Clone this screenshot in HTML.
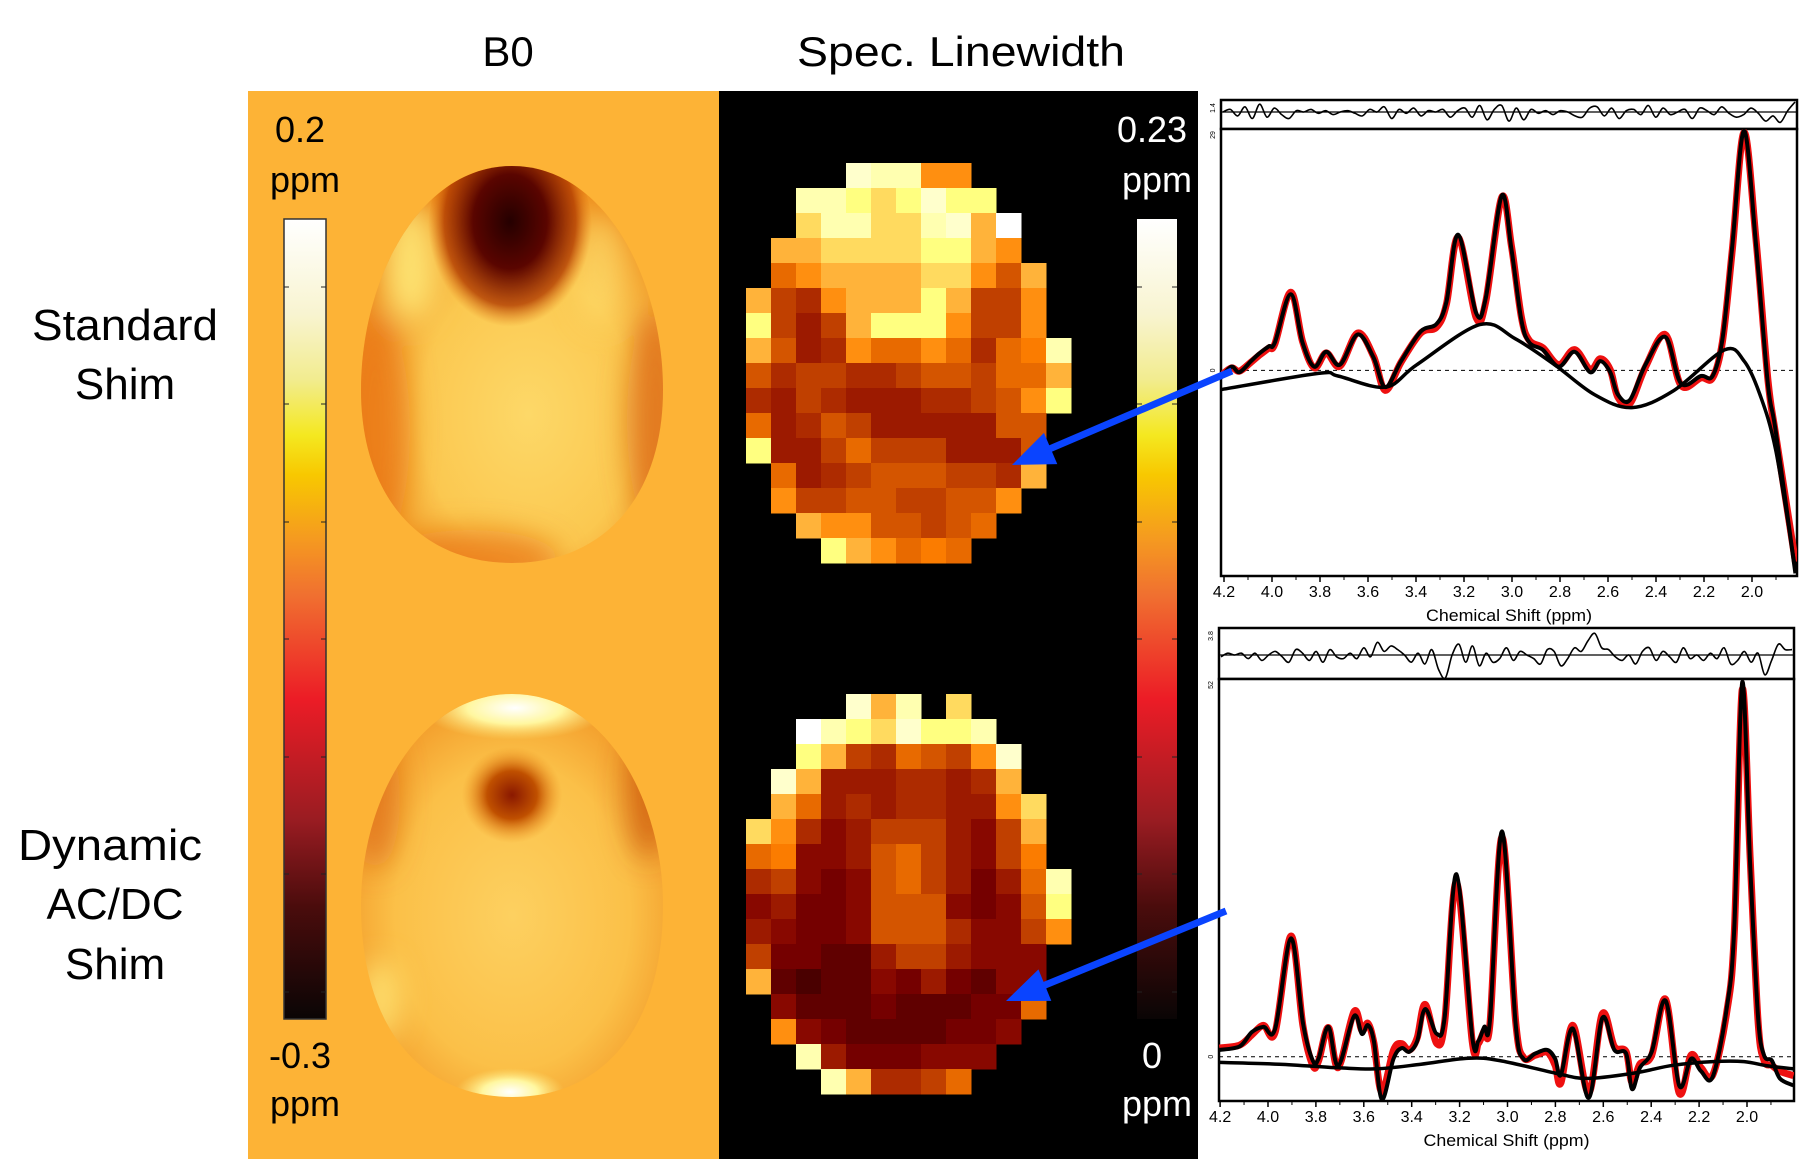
<!DOCTYPE html>
<html><head><meta charset="utf-8">
<style>
html,body{margin:0;padding:0;background:#fff;}
svg{display:block;font-family:"Liberation Sans",sans-serif;}
</style></head>
<body>
<svg id="fig" width="1815" height="1169" viewBox="0 0 1815 1169" xmlns="http://www.w3.org/2000/svg">
<defs>
<linearGradient id="hotB0" x1="0" y1="0" x2="0" y2="1">
<stop offset="0" stop-color="#ffffff"/><stop offset="0.12" stop-color="#f8f4d0"/><stop offset="0.2" stop-color="#f2ec90"/>
<stop offset="0.27" stop-color="#f4e820"/><stop offset="0.32" stop-color="#f8c800"/><stop offset="0.4" stop-color="#f59a20"/>
<stop offset="0.47" stop-color="#f07030"/><stop offset="0.6" stop-color="#ec1c26"/><stop offset="0.75" stop-color="#9a1c22"/>
<stop offset="0.86" stop-color="#4a0c0c"/><stop offset="1" stop-color="#0a0505"/></linearGradient>
<radialGradient id="brainTopG" cx="0.55" cy="0.62" r="0.62">
<stop offset="0" stop-color="#fdd868"/><stop offset="0.55" stop-color="#fbc850"/><stop offset="1" stop-color="#ec8414"/></radialGradient>
<radialGradient id="spotTop" cx="0.5" cy="0.45" r="0.5">
<stop offset="0" stop-color="#250000"/><stop offset="0.45" stop-color="#5a0500"/><stop offset="0.8" stop-color="#b03a00" stop-opacity="0.8"/><stop offset="1" stop-color="#e07010" stop-opacity="0"/></radialGradient>
<radialGradient id="brainBotG" cx="0.5" cy="0.55" r="0.62">
<stop offset="0" stop-color="#fdd060"/><stop offset="0.6" stop-color="#fbc048"/><stop offset="1" stop-color="#f09020"/></radialGradient>
<radialGradient id="spotBot" cx="0.5" cy="0.5" r="0.5">
<stop offset="0" stop-color="#8a1800"/><stop offset="0.5" stop-color="#c05000"/><stop offset="1" stop-color="#f09020" stop-opacity="0"/></radialGradient>
<radialGradient id="whiteG" cx="0.5" cy="0.5" r="0.5">
<stop offset="0" stop-color="#ffffff"/><stop offset="0.5" stop-color="#fff7a0"/><stop offset="1" stop-color="#fde070" stop-opacity="0"/></radialGradient>
<filter id="soft" x="-50%" y="-50%" width="200%" height="200%"><feGaussianBlur stdDeviation="14"/></filter>
<clipPath id="clipTop"><path d="M512,166 C605,166 663,280 663,390 C663,495 605,563 512,563 C419,563 361,495 361,390 C361,280 419,166 512,166 Z"/></clipPath>
<clipPath id="clipBot"><path d="M512,694 C605,694 663,800 663,905 C663,1025 605,1097 512,1097 C419,1097 361,1025 361,905 C361,800 419,694 512,694 Z"/></clipPath>
</defs>

<rect x="0" y="0" width="1815" height="1169" fill="#ffffff"/>
<text x="508" y="66" font-size="42" text-anchor="middle">B0</text>
<text x="961" y="66" font-size="42" text-anchor="middle" textLength="328" lengthAdjust="spacingAndGlyphs">Spec. Linewidth</text>

<text x="125" y="340" font-size="44" text-anchor="middle" textLength="186" lengthAdjust="spacingAndGlyphs">Standard</text>
<text x="125" y="399" font-size="44" text-anchor="middle">Shim</text>
<text x="110" y="860" font-size="44" text-anchor="middle" textLength="184" lengthAdjust="spacingAndGlyphs">Dynamic</text>
<text x="115" y="919" font-size="44" text-anchor="middle" textLength="137" lengthAdjust="spacingAndGlyphs">AC/DC</text>
<text x="115" y="979" font-size="44" text-anchor="middle">Shim</text>

<rect x="248" y="91" width="471" height="1068" fill="#fdb336"/>
<rect x="719" y="91" width="479" height="1068" fill="#000000"/>

<g>
<rect x="284" y="219" width="42" height="800" fill="url(#hotB0)" stroke="#333" stroke-width="1.5"/>
<g id="b0ticks"></g>
</g>
<text x="300" y="142" font-size="36" text-anchor="middle">0.2</text>
<text x="305" y="192" font-size="36" text-anchor="middle">ppm</text>
<text x="300" y="1068" font-size="36" text-anchor="middle">-0.3</text>
<text x="305" y="1116" font-size="36" text-anchor="middle">ppm</text>

<g clip-path="url(#clipTop)">
<rect x="355" y="160" width="315" height="410" fill="url(#brainTopG)"/>
<g filter="url(#soft)">
<ellipse cx="375" cy="430" rx="35" ry="120" fill="#e87010" opacity="0.7"/>
<ellipse cx="655" cy="420" rx="28" ry="110" fill="#d86010" opacity="0.7"/>
<ellipse cx="470" cy="560" rx="90" ry="30" fill="#e87010" opacity="0.7"/>
<ellipse cx="410" cy="260" rx="28" ry="60" fill="#fff080" opacity="0.8"/>
<ellipse cx="600" cy="270" rx="25" ry="55" fill="#fde070" opacity="0.6"/>
</g>
<ellipse cx="510" cy="232" rx="82" ry="105" fill="url(#spotTop)"/>
</g>
<g clip-path="url(#clipBot)">
<rect x="355" y="690" width="315" height="410" fill="url(#brainBotG)"/>
<g filter="url(#soft)">
<ellipse cx="375" cy="800" rx="25" ry="70" fill="#d86010" opacity="0.6"/>
<ellipse cx="648" cy="790" rx="22" ry="70" fill="#c04000" opacity="0.6"/>
<ellipse cx="380" cy="1000" rx="20" ry="40" fill="#fff080" opacity="0.7"/>
</g>
<ellipse cx="515" cy="708" rx="95" ry="32" fill="url(#whiteG)"/>
<ellipse cx="510" cy="1092" rx="55" ry="24" fill="url(#whiteG)"/>
<ellipse cx="512" cy="795" rx="50" ry="48" fill="url(#spotBot)"/>
</g>

<g id="gridTop"></g>
<g id="gridBot"></g>

<g>
<rect x="1137" y="219" width="40" height="800" fill="url(#hotB0)"/>
<g id="lwticks"></g>
</g>
<text x="1152" y="142" font-size="36" fill="#fff" text-anchor="middle">0.23</text>
<text x="1157" y="192" font-size="36" fill="#fff" text-anchor="middle">ppm</text>
<text x="1152" y="1068" font-size="36" fill="#fff" text-anchor="middle">0</text>
<text x="1157" y="1116" font-size="36" fill="#fff" text-anchor="middle">ppm</text>

<g id="specTop"></g>
<g id="specBot"></g>
<g id="arrows"></g>
</svg>
<script>
// ---------- linewidth grids (hot colormap levels) ----------
const gridTopRows = [
"....feeaa....","..eedcdfdd...","..ceeccefbg..",".bbccccddba..",".8abbbbcca7b.",
"b65abbbdb66a.","d646bddda66a.","b745a88a8589e","756655677688b","54654445567ad",
"845764444477.","d44686664447.",".8456777665b.",".a66776677a..","..baa77678...","...dba898...."];
const gridBotRows = [
"....fbe.c....","..gedcfdde...","..db65876af..",".fb4445545b..",".b84545544ac.",
"ca534666436b.","893347864369.","563237864248e","342237773237d","432237775336a",
"622114664333.","b10113242133.",".31112111228.",".a321111223..","..e4222333...","...eb5568...."];
const levelKeys = "0123456789abcdefg";
const levelColors = ["#4a0000","#600000","#750000","#880800","#9c1a00","#ad2b00","#c04000","#d45500","#e86a00","#fb7c00","#ff8f10","#ffb33a","#ffda5f","#ffff80","#ffffb0","#ffffcc","#ffffff"];

// ---------- spectra: standard shim ----------
const topPpm  = [4.215,4.169,4.136,4.087,4.054,4.013,3.988,3.922,3.873,3.824,3.774,3.717,3.643,3.577,3.528,3.462,3.380,3.314,3.273,3.224,3.150,3.109,3.043,3.002,2.961,2.928,2.871,2.805,2.739,2.674,2.632,2.591,2.559,2.509,2.444,2.361,2.296,2.213,2.164,2.123,2.082,2.033,1.983,1.934,1.901,1.819];
const topFit  = [-0.89,0.45,-0.22,1.12,2.01,2.90,3.35,9.16,3.35,0.45,2.23,0.67,4.33,1.56,-2.01,1.12,4.69,5.59,8.27,16.31,6.93,8.71,21.0,14.52,6.03,3.35,2.46,0.45,2.23,-0.22,1.12,-0.22,-2.90,-3.57,0.67,4.02,-1.56,-0.67,-0.67,3.80,14.97,28.8,14.97,-1.56,-7.37,-24.4];
const topData = [-0.7,0.3,-0.1,1.0,1.8,2.7,3.2,9.4,3.5,0.3,2.1,0.5,4.5,1.7,-2.4,1.0,4.5,5.2,8.0,16.0,6.4,8.3,20.8,14.9,6.4,3.6,2.7,0.7,2.5,0.1,1.4,0.1,-3.2,-4.0,0.4,4.3,-1.8,-0.9,-0.9,3.5,14.5,28.6,15.6,-1.0,-7.8,-23.0];
const topBasePpm = [4.215,3.807,3.725,3.528,3.397,3.134,2.986,2.822,2.657,2.501,2.328,2.115,2.033,1.967,1.901,1.819];
const topBase    = [-2.32,-0.36,-0.67,-2.01,0.67,5.50,3.80,0.67,-2.90,-4.47,-2.46,2.46,1.12,-2.90,-9.61,-23.9];
const topResid = [0,-2,3,-4,5,-6,4,-3,2,5,-1,0,-2,1,-1,2,0,-1,1,3,-2,0,-4,5,-2,1,-3,3,-1,0,-2,4,-1,-3,4,-5,6,-2,-5,7,-3,6,-2,1,-1,2,-1,0,3,4,-3,-4,3,-3,5,-1,-2,2,-5,4,-3,2,0,-2,5,-3,-1,2,-4,1,4,2,-3,1,7,3,8,-1,-12];
const topTicks = ["4.2","4.0","3.8","3.6","3.4","3.2","3.0","2.8","2.6","2.4","2.2","2.0"];

// ---------- spectra: dynamic AC/DC shim ----------
const botPpm  = [4.203,4.118,4.068,4.019,3.970,3.904,3.854,3.813,3.789,3.748,3.707,3.641,3.608,3.583,3.558,3.525,3.476,3.443,3.410,3.377,3.344,3.295,3.262,3.213,3.147,3.122,3.097,3.073,3.023,2.966,2.933,2.884,2.834,2.801,2.777,2.727,2.661,2.604,2.554,2.505,2.480,2.447,2.398,2.340,2.283,2.234,2.192,2.143,2.085,2.053,2.020,1.987,1.954,1.929,1.896,1.863,1.806];
const botFit  = [0.93,1.42,3.37,4.11,3.86,16.28,4.59,-0.54,-0.29,4.11,-1.27,5.57,3.13,4.35,2.15,-5.87,-0.29,1.17,0.68,2.15,6.55,3.13,5.57,25.1,2.64,2.15,4.11,5.08,30.99,4.59,-0.29,0.44,0.93,-0.29,-2.49,3.86,-5.67,5.33,0.93,0.44,-4.45,-1.51,0.68,7.72,-3.98,-0.29,-2.00,-2.74,6.55,17.74,51.5,26.6,5.57,0.2,-0.54,-2.98,-3.96];
const botData = [1.2,1.6,3.0,4.3,3.4,16.6,4.2,-1.2,-0.6,4.0,-1.5,6.2,3.6,4.6,1.9,-4.9,0.9,1.8,0.9,2.6,7.2,1.8,4.9,24.0,2.0,1.8,3.6,4.6,30.2,4.9,-0.1,0.2,0.6,-1.2,-3.6,4.3,-5.0,5.9,1.4,0.7,-3.6,-1.0,0.2,7.9,-5.0,0.2,-1.5,-2.5,6.0,17.0,50.5,27.5,5.0,-0.5,-1.2,-2.0,-2.6];
const botBasePpm = [4.203,3.953,3.707,3.542,3.361,3.163,3.032,2.801,2.669,2.472,2.307,2.143,2.012,1.913,1.806];
const botBase    = [-0.78,-1.03,-1.52,-1.66,-1.03,-0.2,-0.54,-2.25,-2.98,-2.25,-1.17,-0.68,-0.68,-1.27,-1.66];
const botResid = [1,-1,0,-1,2,-1,3,0,-2,1,4,-3,-1,3,-2,4,-3,1,2,-1,2,-4,1,-7,-2,-5,-3,0,4,-1,5,-3,8,15,0,-6,4,-5,6,-1,4,2,-4,3,-2,0,2,5,-3,-2,6,2,-4,-2,-8,-12,-4,-3,1,3,0,5,-2,-4,3,-2,1,4,-4,2,0,3,-1,2,-4,5,3,-2,4,-1,11,3,-6,-3,-3];
const botTicks = ["4.2","4.0","3.8","3.6","3.4","3.2","3.0","2.8","2.6","2.4","2.2","2.0"];

const NS = "http://www.w3.org/2000/svg";
function mk(tag, attrs, parent){const e=document.createElementNS(NS,tag);for(const k in attrs)e.setAttribute(k,attrs[k]);parent.appendChild(e);return e;}

function drawGrid(gid, rows, x0, y0, cell){
  const g=document.getElementById(gid);
  rows.forEach((row,r)=>{
    for(let c=0;c<row.length;c++){
      const ch=row[c]; if(ch==='.') continue;
      const cell_el=mk('rect',{x:x0+c*cell,y:y0+r*cell,width:cell+0.5,height:cell+0.5,fill:levelColors[levelKeys.indexOf(ch)]},g);
      
      
    }
  });
}
drawGrid('gridTop',gridTopRows,746,163,25);
drawGrid('gridBot',gridBotRows,746,694,25);

[287,404,522,639,757,874,992].forEach(y=>{
  const g1=document.getElementById('b0ticks');
  mk('line',{x1:284,y1:y,x2:289,y2:y,stroke:'#222','stroke-width':1},g1);
  mk('line',{x1:321,y1:y,x2:326,y2:y,stroke:'#222','stroke-width':1},g1);
  const g2=document.getElementById('lwticks');
  mk('line',{x1:1137,y1:y,x2:1142,y2:y,stroke:'#222','stroke-width':1},g2);
  mk('line',{x1:1172,y1:y,x2:1177,y2:y,stroke:'#222','stroke-width':1},g2);
});

function smooth(pts){
  let d='M'+pts[0][0].toFixed(1)+','+pts[0][1].toFixed(1);
  for(let i=0;i<pts.length-1;i++){
    const p0=pts[Math.max(0,i-1)],p1=pts[i],p2=pts[i+1],p3=pts[Math.min(pts.length-1,i+2)];
    const c1x=p1[0]+(p2[0]-p0[0])/6,c1y=p1[1]+(p2[1]-p0[1])/6;
    const c2x=p2[0]-(p3[0]-p1[0])/6,c2y=p2[1]-(p3[1]-p1[1])/6;
    d+='C'+c1x.toFixed(1)+','+c1y.toFixed(1)+' '+c2x.toFixed(1)+','+c2y.toFixed(1)+' '+p2[0].toFixed(1)+','+p2[1].toFixed(1);
  }
  return d;
}

function drawSpec(gid,cfg){
  const g=document.getElementById(gid);
  const xs=p=>cfg.x20+(2.0-p)*cfg.ppx;
  const ys=v=>cfg.zeroY-v*cfg.vpx;
  const L=cfg.left,R=cfg.right;
  const rb=mk('rect',{x:L,y:cfg.resTop,width:R-L,height:cfg.top-cfg.resTop,fill:'#fff',stroke:'#000','stroke-width':2.5},g);
  
  
  mk('line',{x1:L,y1:cfg.resMid,x2:R,y2:cfg.resMid,stroke:'#000','stroke-width':1.2},g);
  const n=cfg.resid.length;
  const rpts=cfg.resid.map((v,i)=>[L+2+(R-L-4)*i/(n-1),Math.max(cfg.resTop+2,Math.min(cfg.top-1,cfg.resMid+v*cfg.resScale))]);
  const rl=mk('path',{d:smooth(rpts),fill:'none',stroke:'#000','stroke-width':1.6},g);
  
  
  const mb=mk('rect',{x:L,y:cfg.top,width:R-L,height:cfg.bottom-cfg.top,fill:'#fff',stroke:'#000','stroke-width':2.5},g);
  
  
  mk('line',{x1:L,y1:ys(0),x2:R,y2:ys(0),stroke:'#000','stroke-width':1,'stroke-dasharray':'4,4'},g);
  const t1=mk('text',{x:0,y:0,'font-size':7,transform:`translate(${L-6},${cfg.resTop+8}) rotate(-90)`,'text-anchor':'middle'},g); t1.textContent=cfg.resLabel;
  const t2=mk('text',{x:0,y:0,'font-size':7,transform:`translate(${L-6},${cfg.top+6}) rotate(-90)`,'text-anchor':'middle'},g); t2.textContent=cfg.maxLabel;
  const t3=mk('text',{x:0,y:0,'font-size':7,transform:`translate(${L-6},${ys(0)}) rotate(-90)`,'text-anchor':'middle'},g); t3.textContent='0';
  const path=(P,V)=>smooth(P.map((p,i)=>[xs(p),ys(V[i])]));
  const cp=mk('clipPath',{id:gid+'clip'},g); mk('rect',{x:L,y:cfg.top,width:R-L,height:cfg.bottom-cfg.top},cp);
  const pg=mk('g',{'clip-path':`url(#${gid}clip)`},g);
  const dl=mk('path',{d:path(cfg.ppm,cfg.data),fill:'none',stroke:'#ee1010','stroke-width':7,'stroke-linejoin':'round'},pg);
  
  
  const fl=mk('path',{d:path(cfg.ppm,cfg.fit),fill:'none',stroke:'#000','stroke-width':4,'stroke-linejoin':'round'},pg);
  
  
  const bl=mk('path',{d:path(cfg.bppm,cfg.base),fill:'none',stroke:'#000','stroke-width':3.5,'stroke-linejoin':'round'},pg);
  
  
  cfg.ticks.forEach(lab=>{
    const p=parseFloat(lab); const x=xs(p);
    mk('line',{x1:x,y1:cfg.bottom,x2:x,y2:cfg.bottom+6,stroke:'#000','stroke-width':1.5},g);
    const t=mk('text',{x:x,y:cfg.bottom+21,'font-size':16,'text-anchor':'middle'},g); t.textContent=lab;
    
    
    const xm=xs(p-0.1); if(xm<R) mk('line',{x1:xm,y1:cfg.bottom,x2:xm,y2:cfg.bottom+4,stroke:'#000','stroke-width':1},g);
  });
  const xt=mk('text',{x:(L+R)/2,y:cfg.bottom+45,'font-size':17,'text-anchor':'middle',textLength:166,lengthAdjust:'spacingAndGlyphs'},g);
  xt.textContent='Chemical Shift (ppm)';
  
  
}
drawSpec('specTop',{left:1221,right:1797,resTop:100,top:129,bottom:576,resMid:112,resScale:1.3,zeroY:370.4,vpx:8.32,x20:1752,ppx:240,
  ppm:topPpm,fit:topFit,data:topData,bppm:topBasePpm,base:topBase,resid:topResid,ticks:topTicks,resLabel:'1.4',maxLabel:'29'});
drawSpec('specBot',{left:1219,right:1794,resTop:628,top:679,bottom:1101,resMid:655,resScale:1.8,zeroY:1056.7,vpx:7.27,x20:1747,ppx:239.5,
  ppm:botPpm,fit:botFit,data:botData,bppm:botBasePpm,base:botBase,resid:botResid,ticks:botTicks,resLabel:'3.8',maxLabel:'52'});

function arrow(x1,y1,tx,ty,name){
  const g=document.getElementById('arrows');
  const dx=tx-x1,dy=ty-y1,len=Math.hypot(dx,dy),ux=dx/len,uy=dy/len;
  const hl=42,hw=17,bx=tx-ux*hl,by=ty-uy*hl;
  const a=mk('g',{},g);
  
  
  mk('line',{x1:x1,y1:y1,x2:bx+ux*4,y2:by+uy*4,stroke:'#0a44ff','stroke-width':7},a);
  mk('polygon',{points:`${tx},${ty} ${bx-uy*hw},${by+ux*hw} ${bx+uy*hw},${by-ux*hw}`,fill:'#0a44ff'},a);
}
arrow(1232,371,1012,465,'arrow-standard');
arrow(1226,911,1006,1001,'arrow-dynamic');
</script>
</body></html>
